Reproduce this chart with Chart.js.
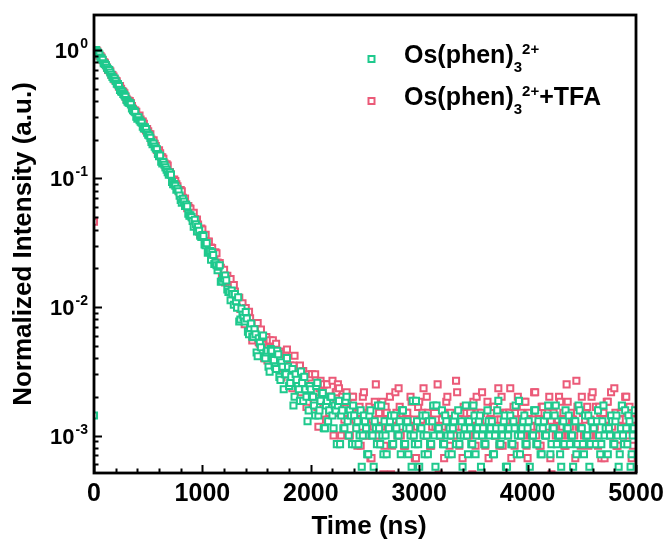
<!DOCTYPE html>
<html>
<head>
<meta charset="utf-8">
<script src="https://cdn.jsdelivr.net/npm/chart.js@4.4.1/dist/chart.umd.min.js"></script>
<style>
  html, body { margin: 0; padding: 0; background: #fff; }
  #wrap { width: 669px; height: 542px; }
</style>
</head>
<body>
<div id="wrap"><canvas id="chart" width="669" height="542"></canvas></div>
<script>
// time axis (ns), one channel every 10 ns
const times = [
  0, 10, 20, 30, 40, 50, 60, 70, 80, 90,
  100, 110, 120, 130, 140, 150, 160, 170, 180, 190,
  200, 210, 220, 230, 240, 250, 260, 270, 280, 290,
  300, 310, 320, 330, 340, 350, 360, 370, 380, 390,
  400, 410, 420, 430, 440, 450, 460, 470, 480, 490,
  500, 510, 520, 530, 540, 550, 560, 570, 580, 590,
  600, 610, 620, 630, 640, 650, 660, 670, 680, 690,
  700, 710, 720, 730, 740, 750, 760, 770, 780, 790,
  800, 810, 820, 830, 840, 850, 860, 870, 880, 890,
  900, 910, 920, 930, 940, 950, 960, 970, 980, 990,
  1000, 1010, 1020, 1030, 1040, 1050, 1060, 1070, 1080, 1090,
  1100, 1110, 1120, 1130, 1140, 1150, 1160, 1170, 1180, 1190,
  1200, 1210, 1220, 1230, 1240, 1250, 1260, 1270, 1280, 1290,
  1300, 1310, 1320, 1330, 1340, 1350, 1360, 1370, 1380, 1390,
  1400, 1410, 1420, 1430, 1440, 1450, 1460, 1470, 1480, 1490,
  1500, 1510, 1520, 1530, 1540, 1550, 1560, 1570, 1580, 1590,
  1600, 1610, 1620, 1630, 1640, 1650, 1660, 1670, 1680, 1690,
  1700, 1710, 1720, 1730, 1740, 1750, 1760, 1770, 1780, 1790,
  1800, 1810, 1820, 1830, 1840, 1850, 1860, 1870, 1880, 1890,
  1900, 1910, 1920, 1930, 1940, 1950, 1960, 1970, 1980, 1990,
  2000, 2010, 2020, 2030, 2040, 2050, 2060, 2070, 2080, 2090,
  2100, 2110, 2120, 2130, 2140, 2150, 2160, 2170, 2180, 2190,
  2200, 2210, 2220, 2230, 2240, 2250, 2260, 2270, 2280, 2290,
  2300, 2310, 2320, 2330, 2340, 2350, 2360, 2370, 2380, 2390,
  2400, 2410, 2420, 2430, 2440, 2450, 2460, 2470, 2480, 2490,
  2500, 2510, 2520, 2530, 2540, 2550, 2560, 2570, 2580, 2590,
  2600, 2610, 2620, 2630, 2640, 2650, 2660, 2670, 2680, 2690,
  2700, 2710, 2720, 2730, 2740, 2750, 2760, 2770, 2780, 2790,
  2800, 2810, 2820, 2830, 2840, 2850, 2860, 2870, 2880, 2890,
  2900, 2910, 2920, 2930, 2940, 2950, 2960, 2970, 2980, 2990,
  3000, 3010, 3020, 3030, 3040, 3050, 3060, 3070, 3080, 3090,
  3100, 3110, 3120, 3130, 3140, 3150, 3160, 3170, 3180, 3190,
  3200, 3210, 3220, 3230, 3240, 3250, 3260, 3270, 3280, 3290,
  3300, 3310, 3320, 3330, 3340, 3350, 3360, 3370, 3380, 3390,
  3400, 3410, 3420, 3430, 3440, 3450, 3460, 3470, 3480, 3490,
  3500, 3510, 3520, 3530, 3540, 3550, 3560, 3570, 3580, 3590,
  3600, 3610, 3620, 3630, 3640, 3650, 3660, 3670, 3680, 3690,
  3700, 3710, 3720, 3730, 3740, 3750, 3760, 3770, 3780, 3790,
  3800, 3810, 3820, 3830, 3840, 3850, 3860, 3870, 3880, 3890,
  3900, 3910, 3920, 3930, 3940, 3950, 3960, 3970, 3980, 3990,
  4000, 4010, 4020, 4030, 4040, 4050, 4060, 4070, 4080, 4090,
  4100, 4110, 4120, 4130, 4140, 4150, 4160, 4170, 4180, 4190,
  4200, 4210, 4220, 4230, 4240, 4250, 4260, 4270, 4280, 4290,
  4300, 4310, 4320, 4330, 4340, 4350, 4360, 4370, 4380, 4390,
  4400, 4410, 4420, 4430, 4440, 4450, 4460, 4470, 4480, 4490,
  4500, 4510, 4520, 4530, 4540, 4550, 4560, 4570, 4580, 4590,
  4600, 4610, 4620, 4630, 4640, 4650, 4660, 4670, 4680, 4690,
  4700, 4710, 4720, 4730, 4740, 4750, 4760, 4770, 4780, 4790,
  4800, 4810, 4820, 4830, 4840, 4850, 4860, 4870, 4880, 4890,
  4900, 4910, 4920, 4930, 4940, 4950, 4960, 4970, 4980, 4990
];

// Os(phen)3 2+ (normalized)
const osPhen = [
  0.00143, 0.975, 1, 0.962, 0.942, 0.921, 0.871, 0.857, 0.837, 0.788,
  0.778, 0.760, 0.726, 0.706, 0.699, 0.668, 0.642, 0.616, 0.596, 0.600,
  0.573, 0.547, 0.542, 0.523, 0.489, 0.476, 0.472, 0.455, 0.445, 0.432,
  0.408, 0.396, 0.388, 0.386, 0.377, 0.351, 0.340, 0.334, 0.328, 0.302,
  0.292, 0.299, 0.284, 0.276, 0.271, 0.253, 0.245, 0.250, 0.242, 0.227,
  0.219, 0.216, 0.207, 0.192, 0.185, 0.187, 0.177, 0.171, 0.169, 0.155,
  0.149, 0.151, 0.135, 0.131, 0.134, 0.128, 0.122, 0.117, 0.112, 0.107,
  0.111, 0.107, 0.0938, 0.0901, 0.0904, 0.0878, 0.0818, 0.0832, 0.0795, 0.0735,
  0.0681, 0.0649, 0.0694, 0.0661, 0.0611, 0.0626, 0.0608, 0.0533, 0.0514, 0.0516,
  0.0500, 0.0467, 0.0421, 0.0478, 0.0441, 0.0387, 0.0420, 0.0392, 0.0358, 0.0350,
  0.0363, 0.0357, 0.0307, 0.0303, 0.0314, 0.0264, 0.0273, 0.0273, 0.0233, 0.0267,
  0.0254, 0.0216, 0.0221, 0.0211, 0.0193, 0.0206, 0.0211, 0.0157, 0.0159, 0.0170,
  0.0166, 0.0176, 0.0161, 0.0137, 0.0131, 0.0131, 0.0113, 0.0134, 0.0126, 0.0104,
  0.0126, 0.0111, 0.00986, 0.0119, 0.00771, 0.00800, 0.00971, 0.00871, 0.00829, 0.00771,
  0.00914, 0.00814, 0.00643, 0.00614, 0.00686, 0.00743, 0.00586, 0.00586, 0.00671, 0.00614,
  0.00443, 0.00414, 0.00571, 0.00529, 0.00486, 0.00586, 0.00600, 0.00414, 0.00400, 0.00443,
  0.00457, 0.00343, 0.00314, 0.00471, 0.00457, 0.00400, 0.00386, 0.00343, 0.00329, 0.00457,
  0.00429, 0.00286, 0.00271, 0.00371, 0.00343, 0.00229, 0.00300, 0.00300, 0.00400, 0.00343,
  0.00243, 0.00257, 0.00286, 0.00329, 0.00171, 0.00200, 0.00300, 0.00271, 0.00243, 0.00229,
  0.00186, 0.00314, 0.00257, 0.00186, 0.00286, 0.00229, 0.00200, 0.00129, 0.00157, 0.00243,
  0.00229, 0.00200, 0.00200, 0.00171, 0.00143, 0.00243, 0.00257, 0.00143, 0.00157, 0.00186,
  0.00214, 0.00214, 0.00114, 0.00114, 0.00171, 0.00186, 0.00129, 0.00157, 0.00200, 0.00200,
  0.00143, 0.00114, 0.00171, 0.00157, 0.000857, 0.00171, 0.00186, 0.000857, 0.00143, 0.00157,
  0.00114, 0.00114, 0.00186, 0.00200, 0.00129, 0.001, 0.00157, 0.00143, 0.000857, 0.00171,
  0.00143,
  0.000857, 0.00114, 0.00129, 0.000857, 0.001, 0.00157, 0.000571, 0.001, 0.00143, 0.00129,
  0.00114, 0.000714, 0.000714, 0.00143, 0.00157, 0.001, 0.001, 0.000571, 0.00129, 0.00114,
  0.000857, 0.00171, 0.00114, 0.000857, 0.00171, 0.001, 0.000714, 0.00129, 0.001, 0.000714,
  0.000429, 0.00114, 0.00129, 0.00143, 0.000857, 0.000857, 0.00143, 0.000429, 0.00114, 0.001,
  0.001, 0.00129, 0.000714, 0.00157, 0.00157, 0.000857, 0.000857, 0.00114, 0.00129, 0.000714,
  0.00114, 0.001, 0.000571, 0.00186, 0.001, 0.000857, 0.00186, 0.00129, 0.000857, 0.000571,
  0.00114, 0.00114, 0.00143, 0.001, 0.000714, 0.00143, 0.001, 0.000714, 0.00129, 0.000857,
  0.000857, 0.00129, 0.00171, 0.001, 0.000571, 0.00171, 0.00114, 0.00114, 0.001, 0.000429,
  0.00157, 0.000857, 0.000857, 0.00143, 0.00129, 0.001, 0.000714, 0.00114, 0.001, 0.000714,
  0.00114, 0.00129, 0.00143, 0.000857, 0.000429, 0.00157, 0.000857, 0.001, 0.00129, 0.000571,
  0.001, 0.00114, 0.00171, 0.001, 0.000714, 0.00129, 0.00114, 0.000857, 0.000857, 0.00171,
  0.00143, 0.000714, 0.001, 0.00114, 0.00129, 0.00143, 0.000571, 0.001, 0.00114, 0.000857,
  0.000857, 0.000429, 0.00157, 0.00129, 0.001, 0.00114, 0.00129, 0.000714, 0.000714, 0.001,
  0.00114, 0.00157, 0.00186, 0.000857, 0.000857, 0.00114, 0.001, 0.00129, 0.00143, 0.000571,
  0.000571, 0.001, 0.00114, 0.00143, 0.000857, 0.000857, 0.00129, 0.00114, 0.00171, 0.000714,
  0.001, 0.00186, 0.000714, 0.001, 0.00114, 0.00129, 0.00143, 0.000857, 0.000857, 0.00114,
  0.00129, 0.000571, 0.000429, 0.001, 0.001, 0.00157, 0.00157, 0.000857, 0.000857, 0.00129,
  0.00114, 0.000714, 0.000714, 0.00114, 0.00129, 0.001, 0.001, 0.00143, 0.00171, 0.000429,
  0.000714, 0.000857, 0.00114, 0.00114, 0.00143, 0.00171, 0.000857, 0.001, 0.001, 0.000714,
  0.000571, 0.00129, 0.00129, 0.000857, 0.00157, 0.00114, 0.00114, 0.00143, 0.000857, 0.001,
  0.001, 0.000571, 0.00129, 0.00129, 0.000714, 0.000857, 0.00171, 0.00157, 0.00114, 0.00114,
  0.000857, 0.000714, 0.00143, 0.001, 0.001, 0.00143, 0.000571, 0.000857, 0.00129, 0.00114,
  0.00114, 0.000286, 0.000857, 0.00129, 0.00157, 0.001, 0.000714, 0.000857, 0.00129, 0.00171,
  0.001, 0.00114, 0.000429, 0.000714, 0.00114, 0.001, 0.00143, 0.00129, 0.000857, 0.000857,
  0.00129, 0.00143, 0.001, 0.000571, 0.000714, 0.00114, 0.00171, 0.001, 0.000857, 0.00157,
  0.00114, 0.000857, 0.00143, 0.00129, 0.000571, 0.000714, 0.001, 0.00114, 0.00157
];

// Os(phen)3 2+ + TFA (normalized)
const osPhenTfa = [
  0.046, 0.97, 1, 0.978, 0.938, 0.902, 0.897, 0.874, 0.832, 0.806,
  0.796, 0.760, 0.728, 0.700, 0.697, 0.681, 0.641, 0.637, 0.620, 0.590,
  0.578, 0.570, 0.538, 0.517, 0.523, 0.499, 0.478, 0.472, 0.459, 0.435,
  0.416, 0.404, 0.402, 0.400, 0.387, 0.366, 0.349, 0.338, 0.337, 0.330,
  0.305, 0.300, 0.309, 0.287, 0.277, 0.277, 0.266, 0.244, 0.236, 0.242,
  0.233, 0.222, 0.221, 0.201, 0.195, 0.198, 0.186, 0.179, 0.167, 0.158,
  0.166, 0.157, 0.147, 0.146, 0.142, 0.131, 0.124, 0.129, 0.126, 0.112,
  0.112, 0.108, 0.0977, 0.0942, 0.0982, 0.0957, 0.0900, 0.0868, 0.0805, 0.0778,
  0.0812, 0.0793, 0.0706, 0.0684, 0.0697, 0.0610, 0.0587, 0.0611, 0.0588, 0.0581,
  0.0528, 0.0496, 0.0540, 0.0483, 0.0446, 0.0479, 0.0439, 0.0386, 0.0367, 0.0407,
  0.0401, 0.0357, 0.0360, 0.0365, 0.0305, 0.0322, 0.0323, 0.0267, 0.0290, 0.0287,
  0.0250, 0.0245, 0.0267, 0.0262, 0.0222, 0.0202, 0.0220, 0.0202, 0.0170, 0.0193,
  0.0195, 0.0155, 0.0167, 0.0175, 0.0143, 0.0142, 0.0165, 0.0143, 0.0128, 0.0148,
  0.0132, 0.0107, 0.0100, 0.0113, 0.0118, 0.00967, 0.0103, 0.0107, 0.00833, 0.00733,
  0.00983, 0.00883, 0.00800, 0.00917, 0.00817, 0.00700, 0.00550, 0.00583, 0.00750, 0.00700,
  0.00633, 0.00750, 0.00533, 0.00517, 0.00667, 0.00583, 0.00517, 0.00400, 0.00567, 0.00583,
  0.00383, 0.00483, 0.00550, 0.00417, 0.00450, 0.00550, 0.00400, 0.00350, 0.00517, 0.00433,
  0.00333, 0.00450, 0.00400, 0.00283, 0.00433, 0.00367, 0.00317, 0.00417, 0.00467, 0.00300,
  0.00317, 0.00350, 0.00250, 0.00233, 0.00350, 0.00417, 0.00300, 0.00267, 0.00233, 0.00317,
  0.00350, 0.00217, 0.00250, 0.00317, 0.00283, 0.00267, 0.00167, 0.00183, 0.00300, 0.00283,
  0.00233, 0.00300, 0.00200, 0.00183, 0.00300, 0.00217, 0.00167, 0.00117, 0.00233, 0.00267,
  0.00200, 0.00217, 0.00250, 0.00183, 0.00133, 0.00250, 0.00200, 0.00150, 0.00183, 0.00200,
  0.00267, 0.00100, 0.00150, 0.00217, 0.00217, 0.00250, 0.00233, 0.00167, 0.00100, 0.00200,
  0.00183, 0.00133, 0.00150, 0.00217, 0.00183, 0.00100, 0.00100, 0.00167, 0.00200, 0.00200,
  0.00150,
  0.00133, 0.00117, 0.000833, 0.0015, 0.00167, 0.000833, 0.00117, 0.002, 0.00217, 0.00133,
  0.001, 0.001, 0.0015, 0.00167, 0.000667, 0.000667, 0.00133, 0.00117, 0.00183, 0.0025,
  0.001, 0.001, 0.0015, 0.00133, 0.00117, 0.00183, 0.0005, 0.000833, 0.00167, 0.0015,
  0.00133, 0.00117, 0.002, 0.0005, 0.000833, 0.00133, 0.00117, 0.00217, 0.0015, 0.001,
  0.00233, 0.00167, 0.001, 0.00117, 0.00133, 0.000833, 0.000833, 0.0015, 0.0015, 0.00133,
  0.00117, 0.002, 0.00183, 0.001, 0.00133, 0.000667, 0.000667, 0.00117, 0.00167, 0.00183,
  0.00117, 0.00133, 0.0015, 0.00233, 0.001, 0.001, 0.002, 0.0015, 0.00133, 0.000833,
  0.000833, 0.00117, 0.00167, 0.00167, 0.00117, 0.00133, 0.0025, 0.0005, 0.001, 0.001,
  0.00133, 0.0015, 0.000667, 0.00117, 0.00183, 0.002, 0.00117, 0.000833, 0.0015, 0.00133,
  0.001, 0.001, 0.00133, 0.00267, 0.00217, 0.00117, 0.000833, 0.0015, 0.00117, 0.000667,
  0.00167, 0.00133, 0.00117, 0.00167, 0.001, 0.001, 0.0015, 0.00117, 0.0005, 0.00183,
  0.00133, 0.000833, 0.002, 0.0015, 0.001, 0.00133, 0.0015, 0.00217, 0.00117, 0.001,
  0.000833, 0.00117, 0.00183, 0.000667, 0.00133, 0.0015, 0.00117, 0.00167, 0.00167, 0.001,
  0.001, 0.00133, 0.00233, 0.000833, 0.00133, 0.002, 0.000833, 0.00117, 0.0015, 0.0015,
  0.00117, 0.001, 0.0015, 0.00233, 0.000667, 0.00133, 0.00167, 0.000833, 0.00133, 0.00167,
  0.002, 0.00117, 0.001, 0.0015, 0.00117, 0.001, 0.00183, 0.00183, 0.000833, 0.000667,
  0.0015, 0.00133, 0.001, 0.00117, 0.00133, 0.00217, 0.00217, 0.001, 0.00117, 0.0015,
  0.000833, 0.000833, 0.00167, 0.00167, 0.00133, 0.00133, 0.001, 0.00117, 0.0015, 0.002,
  0.000667, 0.0005, 0.00167, 0.0015, 0.00117, 0.001, 0.00133, 0.00133, 0.002, 0.00183,
  0.001, 0.00117, 0.0015, 0.000833, 0.000833, 0.0025, 0.00183, 0.001, 0.00117, 0.0015,
  0.00133, 0.00133, 0.001, 0.000667, 0.00267, 0.00167, 0.00117, 0.00117, 0.000833, 0.002,
  0.0015, 0.001, 0.00133, 0.0015, 0.00167, 0.000833, 0.001, 0.00133, 0.002, 0.00217,
  0.00117, 0.00117, 0.00167, 0.001, 0.000833, 0.00167, 0.0015, 0.000667, 0.00133, 0.0015,
  0.000667, 0.00133, 0.00183, 0.00183, 0.00117, 0.001, 0.00217, 0.00117, 0.001, 0.00233,
  0.0015, 0.000833, 0.000833, 0.00133, 0.00133, 0.0015, 0.00167, 0.001, 0.00117, 0.002,
  0.002, 0.00117, 0.001, 0.00167, 0.00133, 0.000667, 0.000833, 0.00133, 0.0015
];

// axis ticks
const xTicks = [0, 1000, 2000, 3000, 4000, 5000];
const xMinorTicks = [200, 400, 600, 800, 1200, 1400, 1600, 1800, 2200, 2400, 2600, 2800,
  3200, 3400, 3600, 3800, 4200, 4400, 4600, 4800];
const yTicks = [1, 0.1, 0.01, 0.001];
const yTickExp = ['0', '-1', '-2', '-3'];
const yMinorTicks = [0.0006, 0.0007, 0.0008, 0.0009,
  0.002, 0.003, 0.004, 0.005, 0.006, 0.007, 0.008, 0.009,
  0.02, 0.03, 0.04, 0.05, 0.06, 0.07, 0.08, 0.09,
  0.2, 0.3, 0.4, 0.5, 0.6, 0.7, 0.8, 0.9];

const GREEN = '#1fc98d';
const PINK = '#eb5a78';
const FONT = '"Liberation Sans", Arial, sans-serif';

const toPoints = (ys) => times.map((t, i) => ({ x: t, y: ys[i] }));

// draws text runs with sub/superscripts
function drawRuns(ctx, runs, x, baseline) {
  runs.forEach(r => {
    ctx.font = `bold ${r.size}px ${FONT}`;
    ctx.fillText(r.text, x, baseline + (r.dy || 0));
    x += ctx.measureText(r.text).width;
  });
  return x;
}

const axesPlugin = {
  id: 'axesPlugin',
  afterDatasetsDraw(chart) {
    const { ctx, chartArea: a, scales: { x, y } } = chart;
    ctx.save();
    ctx.strokeStyle = '#000';
    ctx.fillStyle = '#000';

    // inward ticks
    ctx.lineWidth = 2;
    ctx.beginPath();
    xMinorTicks.forEach(v => {
      const px = Math.round(x.getPixelForValue(v)) + 0.5;
      ctx.moveTo(px, a.bottom); ctx.lineTo(px, a.bottom - 4.5);
    });
    xTicks.forEach(v => {
      const px = Math.round(x.getPixelForValue(v)) + 0.5;
      ctx.moveTo(px, a.bottom); ctx.lineTo(px, a.bottom - 8);
    });
    yMinorTicks.forEach(v => {
      const py = Math.round(y.getPixelForValue(v)) + 0.5;
      ctx.moveTo(a.left, py); ctx.lineTo(a.left + 4.5, py);
    });
    yTicks.forEach(v => {
      const py = Math.round(y.getPixelForValue(v)) + 0.5;
      ctx.moveTo(a.left, py); ctx.lineTo(a.left + 8, py);
    });
    ctx.stroke();

    // frame
    ctx.lineWidth = 2.8;
    ctx.strokeRect(a.left, a.top, a.right - a.left, a.bottom - a.top);

    // x tick labels
    ctx.font = `bold 25px ${FONT}`;
    ctx.textAlign = 'center';
    ctx.textBaseline = 'alphabetic';
    xTicks.forEach(v => {
      ctx.fillText(String(v), x.getPixelForValue(v), a.bottom + 28);
    });

    // y tick labels 10^n
    ctx.textAlign = 'left';
    yTicks.forEach((v, i) => {
      const py = y.getPixelForValue(v);
      ctx.font = `bold 22px ${FONT}`;
      const bw = ctx.measureText('10').width;
      ctx.font = `bold 14px ${FONT}`;
      const ew = ctx.measureText(yTickExp[i]).width;
      const x0 = a.left - 6 - ew - bw - 1;
      ctx.font = `bold 22px ${FONT}`;
      ctx.fillText('10', x0, py + 8);
      ctx.font = `bold 14px ${FONT}`;
      ctx.fillText(yTickExp[i], x0 + bw + 1, py - 2);
    });

    // axis titles
    ctx.font = `bold 26px ${FONT}`;
    ctx.textAlign = 'center';
    ctx.fillText('Time (ns)', (a.left + a.right) / 2 + 4, 534);
    ctx.save();
    ctx.translate(31, 244);
    ctx.rotate(-Math.PI / 2);
    ctx.fillText('Normalized Intensity (a.u.)', 0, 0);
    ctx.restore();

    // legend
    ctx.textAlign = 'left';
    const rows = [
      { color: GREEN, base: 63, runs: [
        { text: 'Os(phen)', size: 25 },
        { text: '3', size: 15, dy: 9 },
        { text: '2+', size: 15, dy: -9 }
      ] },
      { color: PINK, base: 105, runs: [
        { text: 'Os(phen)', size: 25 },
        { text: '3', size: 15, dy: 9 },
        { text: '2+', size: 15, dy: -9 },
        { text: '+TFA', size: 25 }
      ] }
    ];
    rows.forEach(r => {
      ctx.fillStyle = '#fff';
      ctx.strokeStyle = r.color;
      ctx.lineWidth = 2;
      ctx.fillRect(368.5, r.base - 7, 6, 6);
      ctx.strokeRect(368.5, r.base - 7, 6, 6);
      ctx.fillStyle = '#000';
      drawRuns(ctx, r.runs, 404, r.base);
    });
    ctx.restore();
  }
};

const markerStyle = {
  pointStyle: 'rect',
  pointRadius: 4.3,
  borderWidth: 2,
  backgroundColor: '#fff',
  clip: 0
};

new Chart(document.getElementById('chart'), {
  type: 'scatter',
  data: {
    datasets: [
      { label: 'Os(phen)3 2+', data: toPoints(osPhen), borderColor: GREEN, ...markerStyle },
      { label: 'Os(phen)3 2+ +TFA', data: toPoints(osPhenTfa), borderColor: PINK, ...markerStyle }
    ]
  },
  options: {
    responsive: false,
    animation: false,
    events: [],
    layout: { padding: { left: 94, right: 33, top: 15, bottom: 69 } },
    plugins: { legend: { display: false }, tooltip: { enabled: false } },
    scales: {
      x: { type: 'linear', display: false, min: 0, max: 5000 },
      y: { type: 'logarithmic', display: false, min: 0.000511, max: 1.87 }
    }
  },
  plugins: [axesPlugin]
});
</script>
</body>
</html>
